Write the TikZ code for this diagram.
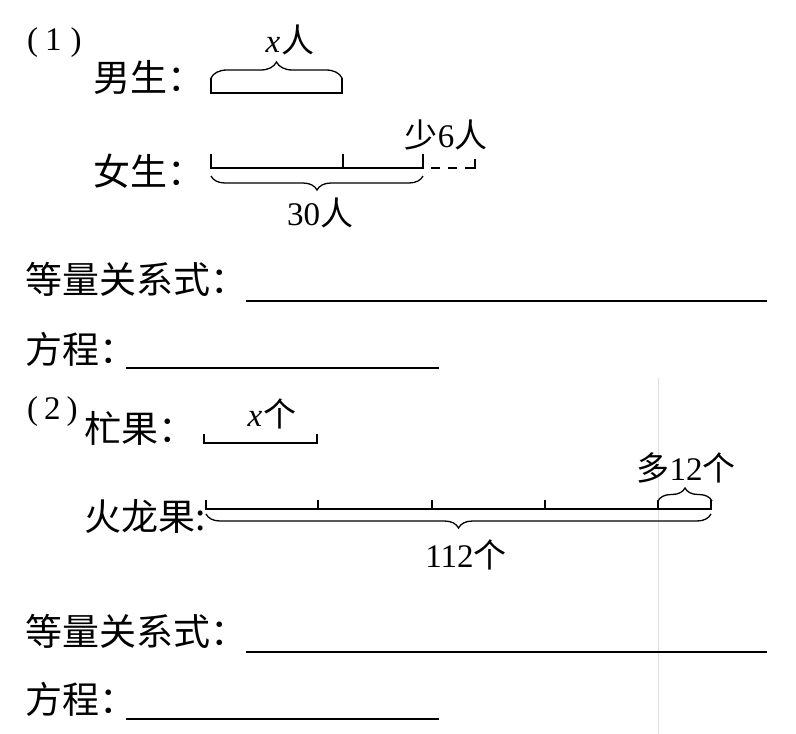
\documentclass[tikz,border=0pt]{standalone}
\usepackage{fontspec}
\setmainfont{Liberation Serif}
\newfontfamily\cjk{Noto Sans CJK SC}
\usetikzlibrary{decorations.pathreplacing}

\begin{document}
\begin{tikzpicture}[
    x=1pt, y=-1pt,
    font=\fontsize{33}{36}\selectfont,
    txt/.style={anchor=west, inner sep=0pt},
    head/.style={txt, font=\fontsize{37}{40}\selectfont\cjk},
    num/.style={anchor=center, inner sep=0pt},
    bar/.style={line width=1.4pt},
    brc/.style={decorate, decoration={brace, amplitude=#1}, line width=1.3pt},
    brc/.default=14pt,
    blank/.style={line width=1.2pt}
]
\useasboundingbox (0,0) rectangle (796,734);

    % fold line of the scan
    \coordinate (fold_top) at (658,378);
    \coordinate (fold_bot) at (658,734);
    \draw[gray!25, line width=1pt] (fold_top) -- (fold_bot);

    % Part 1: coordinates
    \coordinate (boy_l)  at (211,93);
    \coordinate (boy_r)  at (342,93);
    \coordinate (girl_l) at (211,168);
    \coordinate (girl_m) at (343,168);
    \coordinate (girl_r) at (423,168);
    \coordinate (girl_x) at (475,168);

    % Part 1: labels
    \node[txt] (q1)    at (27,43)  {(\hspace{7pt}1\hspace{9pt})};
    \node[head] (boy)  at (93,77)  {男生：};
    \node[head] (girl) at (93,171) {女生：};
    \node[num] (boy_n)  at (290,40)  {\textit{x}\hspace{1pt}{\cjk 人}};
    \node[num] (less)   at (446,135) {{\cjk 少}6{\cjk 人}};
    \node[num] (girl_n) at (320,213) {30{\cjk 人}};

    % Part 1: bars
    \draw[bar] (boy_l) ++(0,-15) -- (boy_l) -- (boy_r) -- ++(0,-15);
    \draw[brc=16pt] (211,78) -- (342,78);
    \draw[bar] (girl_l) ++(0,-14) -- (girl_l) -- (girl_r) -- ++(0,-14);
    \draw[bar] (girl_m) -- ++(0,-14);
    \draw[bar, dash pattern={on 9pt off 8pt on 9pt off 8pt on 20pt}]
        (girl_r) ++(8,0) -- (girl_x) -- ++(0,-9);
    \draw[brc] (423,176) -- (211,176);

    % Part 1: answer lines
    \node[head] (rel1) at (25,279) {等量关系式：};
    \node[head] (eq1)  at (25,349) {方程：};
    \coordinate (rel1_a) at (246,301);
    \coordinate (rel1_b) at (767,301);
    \coordinate (eq1_a)  at (126,368);
    \coordinate (eq1_b)  at (439,368);
    \draw[blank] (rel1_a) -- (rel1_b);
    \draw[blank] (eq1_a) -- (eq1_b);

    % Part 2: coordinates
    \coordinate (mango_l)  at (204,443);
    \coordinate (mango_r)  at (317,443);
    \coordinate (dragon_l) at (206,509);
    \coordinate (dragon_r) at (711,509);

    % Part 2: labels
    \node[txt] (q2)     at (27,412)  {(\hspace{6pt}2\hspace{6pt})};
    \node[head] (mango)  at (84,428)  {杧果：};
    \node[head] (dragon) at (84,516)  {火龙果:};
    \node[num] (mango_n)  at (272,414) {\textit{x}\hspace{1pt}{\cjk 个}};
    \node[num] (more)     at (686,468) {{\cjk 多}12{\cjk 个}};
    \node[num] (dragon_n) at (466,555) {112{\cjk 个}};

    % Part 2: bars
    \draw[bar] (mango_l) ++(0,-9) -- (mango_l) -- (mango_r) -- ++(0,-9);
    \draw[bar] (dragon_l) ++(0,-9) -- (dragon_l) -- (dragon_r) -- ++(0,-9);
    \foreach \tx in {318, 432, 545, 658}
        \draw[bar] (\tx,509) -- (\tx,500);
    \draw[brc=13pt] (658,501) -- (712,501);
    \draw[brc] (711,514) -- (206,514);

    % Part 2: answer lines
    \node[head] (rel2) at (25,631) {等量关系式：};
    \node[head] (eq2)  at (25,699) {方程：};
    \coordinate (rel2_a) at (246,652);
    \coordinate (rel2_b) at (767,652);
    \coordinate (eq2_a)  at (126,719);
    \coordinate (eq2_b)  at (439,719);
    \draw[blank] (rel2_a) -- (rel2_b);
    \draw[blank] (eq2_a) -- (eq2_b);

\end{tikzpicture}
\end{document}
